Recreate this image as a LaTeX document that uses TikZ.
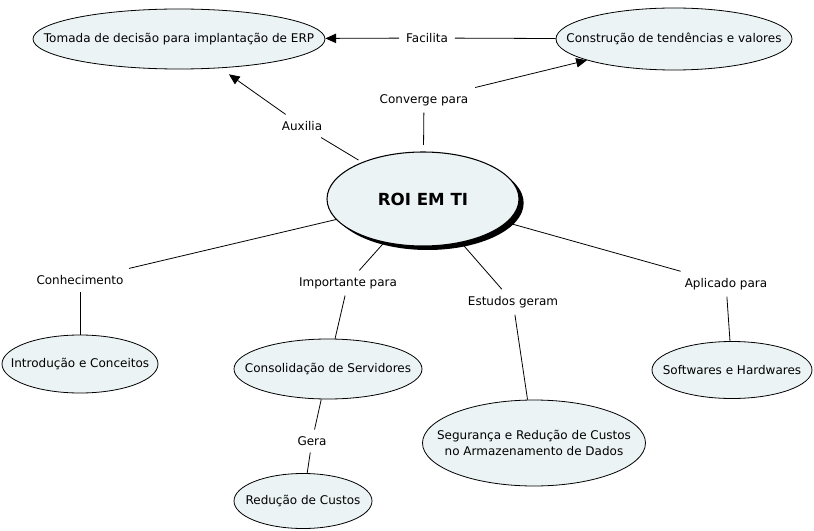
\documentclass[tikz,border=0pt]{standalone}
\usepackage{fontspec}
\setmainfont{DejaVu Sans}
\usetikzlibrary{shapes.geometric,arrows.meta,shadows}
\definecolor{nodefill}{RGB}{236,243,245}
\begin{document}
\begin{tikzpicture}[x=0.75pt,y=-0.75pt,
  concept/.style={ellipse,draw=black,line width=0.6pt,fill=nodefill,inner sep=0pt,
    label={[font=\fontsize{9}{11.5}\selectfont,align=center]center:#1}},
  lbl/.style={inner sep=5pt,font=\fontsize{9}{11}\selectfont},
  link/.style={line width=0.6pt},
  arr/.style={line width=0.6pt,-{Triangle[length=8pt,width=7pt]}}]
\useasboundingbox (0,0) rectangle (814,531);
% nodes
\node[concept={Tomada de decisão para implantação de ERP},minimum width=292*0.75pt,minimum height=60*0.75pt] (erp) at (179,39) {};
\node[concept={Construção de tendências e valores},minimum width=236*0.75pt,minimum height=62*0.75pt] (tend) at (674,39) {};
\node[ellipse,draw=black,fill=nodefill,inner sep=0pt,minimum width=192*0.75pt,minimum height=94*0.75pt,line width=0.8pt,
  drop shadow={shadow xshift=3.5pt,shadow yshift=-3pt,fill=black,opacity=1},
  label={[font=\fontsize{12.5}{14}\bfseries]center:ROI EM TI}] (roi) at (423,199) {};
\node[concept={Introdução e Conceitos},minimum width=156*0.75pt,minimum height=58*0.75pt] (intro) at (80,364) {};
\node[concept={Consolidação de Servidores},minimum width=188*0.75pt,minimum height=60*0.75pt] (cons) at (328,369) {};
\node[concept={Redução de Custos},minimum width=138*0.75pt,minimum height=55*0.75pt] (red) at (303,501) {};
\node[concept={Segurança e Redução de Custos\\no Armazenamento de Dados},minimum width=223*0.75pt,minimum height=86*0.75pt] (seg) at (534,443) {};
\node[concept={Softwares e Hardwares},minimum width=160*0.75pt,minimum height=57*0.75pt] (soft) at (732,370) {};
% labels
\node[lbl] (facilita) at (427,38) {Facilita};
\node[lbl] (conv) at (424,100) {Converge para};
\node[lbl] (aux) at (302,126) {Auxilia};
\node[lbl] (conh) at (80,280) {Conhecimento};
\node[lbl] (imp) at (348,283) {Importante para};
\node[lbl] (est) at (513,302) {Estudos geram};
\node[lbl] (apl) at (726,284) {Aplicado para};
\node[lbl] (gera) at (312,441) {Gera};
% connectors
\draw[link] (tend) -- (facilita);
\draw[arr] (facilita) -- (erp);
\draw[link,shorten <=5pt] (roi) -- (conv);
\draw[arr] (conv) -- (tend);
\draw[link,shorten <=3pt] (roi) -- (aux);
\draw[arr,shorten >=8pt] (aux) -- (erp);
\draw[link] (roi) -- (conh);
\draw[link] (conh) -- (intro);
\draw[link] (roi) -- (imp);
\draw[link] (imp) -- (cons);
\draw[link] (roi) -- (est);
\draw[link] (est) -- (seg);
\draw[link] (roi) -- (apl);
\draw[link] (apl) -- (soft);
\draw[link] (cons) -- (gera);
\draw[link] (gera) -- (red);
\end{tikzpicture}
\end{document}
